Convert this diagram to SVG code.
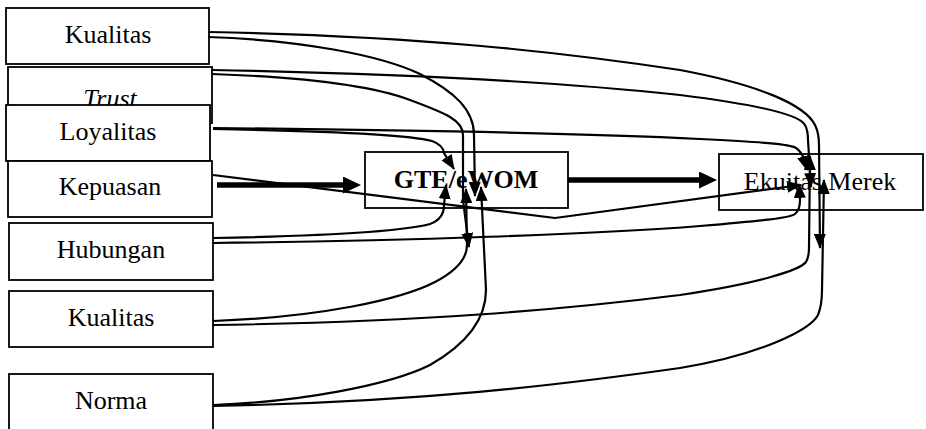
<svg xmlns="http://www.w3.org/2000/svg" width="926" height="429" viewBox="0 0 926 429">
<defs>
<style>
.box{fill:#fff;stroke:#000;stroke-width:1.8}
.t{font-family:'Liberation Serif','Times New Roman',serif;font-size:26px;fill:#000;text-anchor:middle}
.c{fill:none;stroke:#000;stroke-width:2.2;marker-end:url(#a)}
.k{fill:none;stroke:#000;stroke-width:5.5;marker-end:url(#b)}
</style>
<marker id="a" markerUnits="userSpaceOnUse" viewBox="0 0 15 12" markerWidth="15" markerHeight="12" refX="14" refY="6" orient="auto"><path d="M0,0 L15,6 L0,12 z" fill="#000"/></marker>
<marker id="b" markerUnits="userSpaceOnUse" viewBox="0 0 18 17" markerWidth="18" markerHeight="17" refX="0" refY="8.5" orient="auto"><path d="M0,0 L18,8.5 L0,17 z" fill="#000"/></marker>
</defs>
<rect width="926" height="429" fill="#fff"/>
<g id="kualitas1"><rect class="box" x="6" y="8" width="203" height="56"/><text class="t" x="108" y="43">Kualitas</text></g>
<g id="trust"><rect class="box" x="8" y="67" width="204" height="56"/><text class="t" x="110" y="107" font-style="italic">Trust</text></g>
<g id="loyalitas"><rect class="box" x="6" y="105" width="204" height="56"/><text class="t" x="108" y="140">Loyalitas</text></g>
<g id="kepuasan"><rect class="box" x="8" y="161" width="204" height="56"/><text class="t" x="110" y="195">Kepuasan</text></g>
<g id="hubungan"><rect class="box" x="9" y="223" width="204" height="57"/><text class="t" x="111" y="258">Hubungan</text></g>
<g id="kualitas2"><rect class="box" x="9" y="291" width="204" height="56"/><text class="t" x="111" y="326">Kualitas</text></g>
<g id="norma"><rect class="box" x="9" y="374" width="204" height="70"/><text class="t" x="111" y="409">Norma</text></g>
<g id="gte"><rect class="box" x="365" y="152" width="203" height="56"/><text class="t" x="466" y="188" font-weight="bold">GTE/eWOM</text></g>
<g id="ekuitas"><rect class="box" x="719" y="154" width="204" height="56"/><text class="t" x="820" y="190">Ekuitas Merek</text></g>
<g id="connectors">
<path class="c" d="M208,32 C420,36 560,52 680,70 C760,85 805,105 815,125 Q819,133 819,145 L820,248"/>
<path class="c" d="M208,37 C300,40 380,55 420,74 C455,92 474,110 474,135 L475,196"/>
<path class="c" d="M212,70 C420,74 560,82 680,95 C760,105 800,115 805,125 Q808,130 808,140 L811,187"/>
<path class="c" d="M212,74 C300,77 370,85 410,100 C445,113 463,120 463,135 L463,200 L469,247"/>
<path class="c" d="M213,128 C400,130 600,134 700,139 C760,142 790,144 796,148 Q802,152 804,160 L807,170"/>
<path class="c" d="M213,129 C330,131 410,135 432,141 Q443,145 444,153 L454,169"/>
<path class="k" d="M217,185 L343,185"/>
<path class="c" d="M213,175 L555,218 L801,185"/>
<path class="k" d="M568,180 L699,180"/>
<path class="c" d="M213,238 C320,236 400,232 430,224 Q444,219 444,205 L446,185"/>
<path class="c" d="M213,243 C400,241 600,234 700,226 C760,221 790,218 795,214 Q800,210 800,200 L799,184"/>
<path class="c" d="M213,321 C320,317 400,300 435,282 C458,270 467,258 467,245 L466,189"/>
<path class="c" d="M213,325 C420,322 560,310 680,295 C760,283 800,270 806,262 Q809,257 809,248 L810,156"/>
<path class="c" d="M213,405 C300,402 390,385 430,365 C465,345 486,320 486,290 L481,187"/>
<path class="c" d="M213,406 C420,402 560,385 680,368 C760,355 810,330 818,315 Q822,305 822,290 L824,180"/>
</g>
</svg>
